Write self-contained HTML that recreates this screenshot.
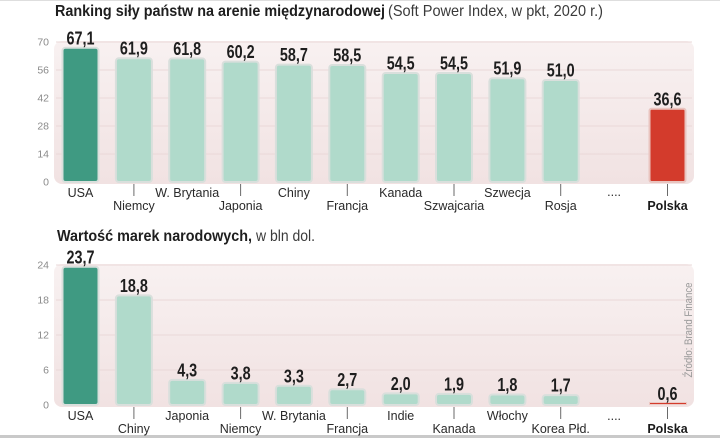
<!DOCTYPE html>
<html>
<head>
<meta charset="utf-8">
<style>
html,body{margin:0;padding:0;background:#fff;}
svg{display:block;}
text{font-family:"Liberation Sans",sans-serif;}
.ax{font-size:10.5px;fill:#8a8a8a;text-anchor:end;}
.lb{font-size:12.5px;fill:#2a2a2a;text-anchor:middle;}
.lbb{font-size:12.5px;fill:#1a1a1a;text-anchor:middle;font-weight:bold;}
.v{font-size:18px;font-weight:bold;fill:#1e1e1e;text-anchor:middle;}
.tk{stroke:#6a6a6a;stroke-width:1;}
.gl{stroke:#ead8d8;stroke-width:1;}
.b{stroke:#d9dfdc;stroke-width:2;}
</style>
</head>
<body>
<svg width="720" height="438" viewBox="0 0 720 438" xmlns="http://www.w3.org/2000/svg">
<defs>
<linearGradient id="pg" x1="0" y1="0" x2="0" y2="1">
<stop offset="0" stop-color="#f8f1f1"/>
<stop offset="1" stop-color="#f1e2e2"/>
</linearGradient>
</defs>
<rect x="0" y="0" width="720" height="1" fill="#dedede"/>
<rect x="0" y="435" width="720" height="3" fill="#c9c9c9"/>

<!-- TOP CHART -->
<text x="55" y="16" font-size="16" font-weight="bold" fill="#1e1e1e" textLength="330" lengthAdjust="spacingAndGlyphs">Ranking siły państw na arenie międzynarodowej</text>
<text x="388" y="16" font-size="16" fill="#3a3a3a" textLength="215" lengthAdjust="spacingAndGlyphs">(Soft Power Index, w pkt, 2020 r.)</text>

<rect x="54" y="41" width="640" height="143" rx="8" fill="url(#pg)"/>
<line class="gl" x1="56" y1="42" x2="692" y2="42"/>
<line class="gl" x1="56" y1="70" x2="692" y2="70"/>
<line class="gl" x1="56" y1="98" x2="692" y2="98"/>
<line class="gl" x1="56" y1="126" x2="692" y2="126"/>
<line class="gl" x1="56" y1="154" x2="692" y2="154"/>

<text class="ax" x="49" y="45.5">70</text>
<text class="ax" x="49" y="73.5">56</text>
<text class="ax" x="49" y="101.5">42</text>
<text class="ax" x="49" y="129.5">28</text>
<text class="ax" x="49" y="157.5">14</text>
<text class="ax" x="49" y="185.5">0</text>

<g>
<rect class="b" x="62.5" y="47.8" width="36" height="134.2" rx="3" fill="#3f9a82"/>
<rect class="b" x="115.9" y="58.2" width="36" height="123.8" rx="3" fill="#b0dacb"/>
<rect class="b" x="169.2" y="58.4" width="36" height="123.6" rx="3" fill="#b0dacb"/>
<rect class="b" x="222.6" y="61.6" width="36" height="120.4" rx="3" fill="#b0dacb"/>
<rect class="b" x="275.9" y="64.6" width="36" height="117.4" rx="3" fill="#b0dacb"/>
<rect class="b" x="329.3" y="65" width="36" height="117" rx="3" fill="#b0dacb"/>
<rect class="b" x="382.7" y="73" width="36" height="109" rx="3" fill="#b0dacb"/>
<rect class="b" x="436" y="73" width="36" height="109" rx="3" fill="#b0dacb"/>
<rect class="b" x="489.4" y="78.2" width="36" height="103.8" rx="3" fill="#b0dacb"/>
<rect class="b" x="542.7" y="80" width="36" height="102" rx="3" fill="#b0dacb"/>
<rect x="649.5" y="108.8" width="36" height="73.2" rx="2" fill="#d33b2c" stroke="#e9c4bf" stroke-width="2"/>
</g>

<g>
<text class="v" x="80.5" y="44.3" textLength="28" lengthAdjust="spacingAndGlyphs">67,1</text>
<text class="v" x="133.9" y="54.7" textLength="28" lengthAdjust="spacingAndGlyphs">61,9</text>
<text class="v" x="187.2" y="54.9" textLength="28" lengthAdjust="spacingAndGlyphs">61,8</text>
<text class="v" x="240.6" y="58.1" textLength="28" lengthAdjust="spacingAndGlyphs">60,2</text>
<text class="v" x="293.9" y="61.1" textLength="28" lengthAdjust="spacingAndGlyphs">58,7</text>
<text class="v" x="347.3" y="61.5" textLength="28" lengthAdjust="spacingAndGlyphs">58,5</text>
<text class="v" x="400.7" y="69.5" textLength="28" lengthAdjust="spacingAndGlyphs">54,5</text>
<text class="v" x="454" y="69.5" textLength="28" lengthAdjust="spacingAndGlyphs">54,5</text>
<text class="v" x="507.4" y="74.7" textLength="28" lengthAdjust="spacingAndGlyphs">51,9</text>
<text class="v" x="560.7" y="76.5" textLength="28" lengthAdjust="spacingAndGlyphs">51,0</text>
<text class="v" x="667.5" y="105.3" textLength="28" lengthAdjust="spacingAndGlyphs">36,6</text>
</g>

<g>
<line class="tk" x1="133.9" y1="184" x2="133.9" y2="196"/>
<line class="tk" x1="240.6" y1="184" x2="240.6" y2="196"/>
<line class="tk" x1="347.3" y1="184" x2="347.3" y2="196"/>
<line class="tk" x1="454" y1="184" x2="454" y2="196"/>
<line class="tk" x1="560.7" y1="184" x2="560.7" y2="196"/>
<line class="tk" x1="667.5" y1="184" x2="667.5" y2="196"/>
</g>
<g>
<text class="lb" x="80.5" y="197">USA</text>
<text class="lb" x="133.9" y="210">Niemcy</text>
<text class="lb" x="187.2" y="197">W. Brytania</text>
<text class="lb" x="240.6" y="210">Japonia</text>
<text class="lb" x="293.9" y="197">Chiny</text>
<text class="lb" x="347.3" y="210">Francja</text>
<text class="lb" x="400.7" y="197">Kanada</text>
<text class="lb" x="454" y="210">Szwajcaria</text>
<text class="lb" x="507.4" y="197">Szwecja</text>
<text class="lb" x="560.7" y="210">Rosja</text>
<text class="lb" x="614.1" y="196" font-size="10" fill="#777">....</text>
<text class="lbb" x="667.5" y="210">Polska</text>
</g>

<!-- BOTTOM CHART -->
<text x="57" y="241" font-size="16" font-weight="bold" fill="#1e1e1e" textLength="195" lengthAdjust="spacingAndGlyphs">Wartość marek narodowych,</text>
<text x="256" y="241" font-size="16" fill="#3a3a3a" textLength="59" lengthAdjust="spacingAndGlyphs">w bln dol.</text>

<rect x="54" y="264" width="640" height="143" rx="8" fill="url(#pg)"/>
<line class="gl" x1="56" y1="265" x2="692" y2="265"/>
<line class="gl" x1="56" y1="300" x2="692" y2="300"/>
<line class="gl" x1="56" y1="335" x2="692" y2="335"/>
<line class="gl" x1="56" y1="370" x2="692" y2="370"/>

<text class="ax" x="49" y="268.5">24</text>
<text class="ax" x="49" y="303.5">18</text>
<text class="ax" x="49" y="338.5">12</text>
<text class="ax" x="49" y="373.5">6</text>
<text class="ax" x="49" y="408.5">0</text>

<g>
<rect class="b" x="62.5" y="266.75" width="36" height="138.25" rx="3" fill="#3f9a82"/>
<rect class="b" x="115.9" y="295.33" width="36" height="109.67" rx="3" fill="#b0dacb"/>
<rect class="b" x="169.2" y="379.92" width="36" height="25.08" rx="3" fill="#b0dacb"/>
<rect class="b" x="222.6" y="382.83" width="36" height="22.17" rx="3" fill="#b0dacb"/>
<rect class="b" x="275.9" y="385.75" width="36" height="19.25" rx="3" fill="#b0dacb"/>
<rect class="b" x="329.3" y="389.25" width="36" height="15.75" rx="3" fill="#b0dacb"/>
<rect class="b" x="382.7" y="393.33" width="36" height="11.67" rx="3" fill="#b0dacb"/>
<rect class="b" x="436" y="393.92" width="36" height="11.08" rx="3" fill="#b0dacb"/>
<rect class="b" x="489.4" y="394.5" width="36" height="10.5" rx="3" fill="#b0dacb"/>
<rect class="b" x="542.7" y="395.08" width="36" height="9.92" rx="3" fill="#b0dacb"/>
<rect x="649.5" y="402.5" width="37" height="2" fill="#d33b2c" stroke="#ecc8c3" stroke-width="1"/>
</g>

<g>
<text class="v" x="80.5" y="263.3" textLength="28" lengthAdjust="spacingAndGlyphs">23,7</text>
<text class="v" x="133.9" y="291.8" textLength="28" lengthAdjust="spacingAndGlyphs">18,8</text>
<text class="v" x="187.2" y="376.4" textLength="20" lengthAdjust="spacingAndGlyphs">4,3</text>
<text class="v" x="240.6" y="379.3" textLength="20" lengthAdjust="spacingAndGlyphs">3,8</text>
<text class="v" x="293.9" y="382.3" textLength="20" lengthAdjust="spacingAndGlyphs">3,3</text>
<text class="v" x="347.3" y="385.8" textLength="20" lengthAdjust="spacingAndGlyphs">2,7</text>
<text class="v" x="400.7" y="389.8" textLength="20" lengthAdjust="spacingAndGlyphs">2,0</text>
<text class="v" x="454" y="390.4" textLength="20" lengthAdjust="spacingAndGlyphs">1,9</text>
<text class="v" x="507.4" y="391" textLength="20" lengthAdjust="spacingAndGlyphs">1,8</text>
<text class="v" x="560.7" y="391.6" textLength="20" lengthAdjust="spacingAndGlyphs">1,7</text>
<text class="v" x="667.5" y="400" textLength="20" lengthAdjust="spacingAndGlyphs">0,6</text>
</g>

<text x="692" y="330" font-size="11" fill="#9a9a9a" text-anchor="middle" transform="rotate(-90 692 330)" textLength="95" lengthAdjust="spacingAndGlyphs">Źródło: Brand Finance</text>

<g>
<line class="tk" x1="133.9" y1="407" x2="133.9" y2="419"/>
<line class="tk" x1="240.6" y1="407" x2="240.6" y2="419"/>
<line class="tk" x1="347.3" y1="407" x2="347.3" y2="419"/>
<line class="tk" x1="454" y1="407" x2="454" y2="419"/>
<line class="tk" x1="560.7" y1="407" x2="560.7" y2="419"/>
<line class="tk" x1="667.5" y1="407" x2="667.5" y2="419"/>
</g>
<g>
<text class="lb" x="80.5" y="420">USA</text>
<text class="lb" x="133.9" y="433">Chiny</text>
<text class="lb" x="187.2" y="420">Japonia</text>
<text class="lb" x="240.6" y="433">Niemcy</text>
<text class="lb" x="293.9" y="420">W. Brytania</text>
<text class="lb" x="347.3" y="433">Francja</text>
<text class="lb" x="400.7" y="420">Indie</text>
<text class="lb" x="454" y="433">Kanada</text>
<text class="lb" x="507.4" y="420">Włochy</text>
<text class="lb" x="560.7" y="433">Korea Płd.</text>
<text class="lb" x="614.1" y="420" font-size="10" fill="#777">....</text>
<text class="lbb" x="667.5" y="433">Polska</text>
</g>
</svg>
</body>
</html>
